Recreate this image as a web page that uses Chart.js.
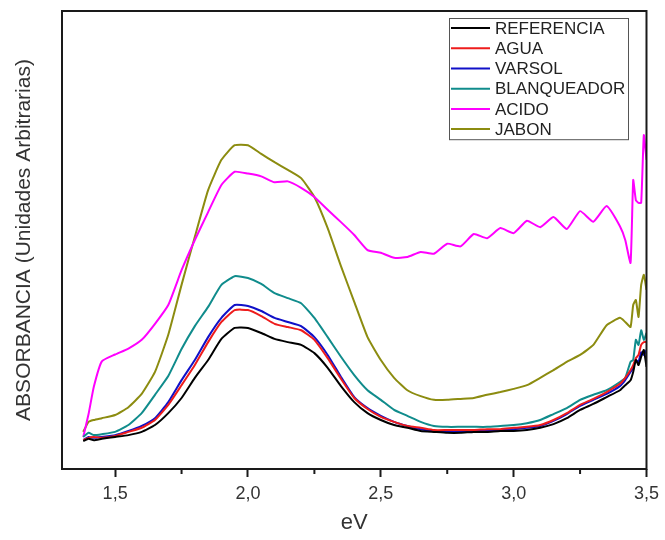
<!DOCTYPE html>
<html>
<head>
<meta charset="utf-8">
<script src="https://cdn.jsdelivr.net/npm/chart.js@4/dist/chart.umd.min.js"></script>
<style>
  html, body { margin: 0; padding: 0; background: #fff; }
  #wrap { width: 665px; height: 540px; }
</style>
</head>
<body>
<div id="wrap"><canvas id="absChart" width="665" height="540"></canvas></div>
<script>
// ----------------------------
// DATA (arbitrary units 0-100)
// ----------------------------
const energy = [
  1.38, 1.40, 1.42, 1.45,
  1.50, 1.55, 1.60, 1.65, 1.70, 1.75, 1.80, 1.85, 1.90, 1.95,
  2.00, 2.05, 2.10, 2.15, 2.20, 2.25, 2.30, 2.35, 2.40, 2.45,
  2.50, 2.55, 2.60, 2.65, 2.70, 2.75, 2.80, 2.85, 2.90, 2.95,
  3.00, 3.05, 3.10, 3.15, 3.20, 3.25, 3.30, 3.35, 3.40,
  3.42, 3.44, 3.45, 3.46, 3.47, 3.48, 3.49, 3.50
];

const referencia = [
  6.1, 6.6, 6.3, 6.6,
  7.0, 7.4, 8.1, 9.6, 12.2, 15.5, 19.9, 23.8, 28.4, 30.8,
  30.8, 29.7, 28.4, 27.7, 27.1, 25.3, 22.1, 18.1, 14.6, 12.2,
  10.7, 9.6, 9.0, 8.3, 8.1, 7.9, 7.9, 8.1, 8.1, 8.3,
  8.3, 8.5, 9.0, 9.8, 11.1, 12.9, 14.2, 15.7, 17.2,
  18.3, 19.4, 21.2, 23.8, 22.7, 24.5, 26.0, 22.3
];

const agua = [
  6.3, 6.8, 7.0, 6.8,
  7.2, 8.1, 9.0, 10.7, 14.0, 18.3, 22.7, 27.7, 32.1, 34.7,
  34.7, 33.4, 31.7, 31.0, 30.3, 28.2, 24.2, 19.7, 15.5, 13.1,
  11.4, 10.3, 9.4, 9.0, 8.5, 8.5, 8.5, 8.5, 8.7, 8.7,
  9.0, 9.2, 9.6, 10.7, 12.2, 14.0, 15.3, 16.8, 18.6,
  19.9, 21.6, 22.7, 24.2, 24.9, 27.1, 27.7, 27.7
];

const varsol = [
  6.3, 7.0, 6.8, 7.0,
  7.4, 8.3, 9.4, 11.1, 14.6, 19.4, 23.8, 28.8, 33.0, 35.8,
  35.6, 34.5, 33.0, 32.1, 31.2, 28.8, 24.9, 20.1, 15.7, 13.3,
  11.6, 10.3, 9.4, 8.7, 8.3, 8.3, 8.3, 8.3, 8.5, 8.5,
  8.7, 9.0, 9.4, 10.5, 12.0, 13.8, 15.1, 16.4, 18.1,
  19.4, 21.2, 22.1, 23.8, 23.4, 25.5, 24.9, 26.0
];

const blanqueador = [
  7.0, 7.9, 7.4, 7.6,
  8.1, 9.6, 12.2, 16.2, 20.3, 26.2, 31.2, 35.4, 40.2, 42.1,
  41.7, 40.4, 38.4, 37.3, 36.2, 33.0, 28.8, 24.5, 20.5, 17.2,
  15.1, 12.9, 11.6, 10.3, 9.4, 9.2, 9.2, 9.2, 9.2, 9.4,
  9.6, 10.0, 10.7, 12.0, 13.3, 15.1, 16.2, 17.2, 19.0,
  19.9, 23.4, 23.8, 28.2, 27.1, 30.3, 28.2, 29.7
];

const acido = [
  7.0, 12.0, 18.0, 23.5,
  25.0, 26.3, 28.2, 31.7, 35.8, 43.4, 50.0, 56.1, 62.0, 64.9,
  64.5, 63.9, 62.6, 62.8, 61.4, 59.4, 56.6, 53.9, 51.1, 47.8,
  47.2, 46.1, 46.3, 47.4, 47.0, 49.2, 48.6, 51.3, 50.4, 52.6,
  51.5, 54.2, 52.8, 55.0, 52.4, 56.3, 54.0, 57.4, 53.0,
  50.0, 45.0, 63.1, 58.7, 58.1, 58.1, 72.9, 67.5
];

const jabon = [
  8.1, 10.3, 10.7, 11.1,
  11.8, 13.5, 16.4, 21.2, 29.3, 40.2, 50.7, 60.9, 67.5, 70.7,
  70.7, 68.8, 67.0, 65.3, 63.5, 59.4, 52.6, 44.3, 36.5, 28.8,
  23.8, 19.9, 17.2, 15.9, 15.1, 15.1, 15.3, 15.5, 16.2, 16.8,
  17.5, 18.3, 19.9, 21.6, 23.4, 24.9, 27.1, 31.4, 33.0,
  32.1, 31.0, 35.8, 36.9, 33.2, 40.2, 42.4, 39.1
];

const seriesNames = ["REFERENCIA", "AGUA", "VARSOL", "BLANQUEADOR", "ACIDO", "JABON"];
const seriesColors = ["#000000", "#ee1c1c", "#1010c8", "#108c8c", "#ff00ff", "#8c8c10"];
const seriesValues = [referencia, agua, varsol, blanqueador, acido, jabon];

const xTicks = [1.5, 1.75, 2.0, 2.25, 2.5, 2.75, 3.0, 3.25, 3.5];

const FONT = "'Liberation Sans', Arial, sans-serif";

// ----------------------------
// PLUGINS: frame, minor ticks, boxed legend
// ----------------------------
const isMajor = v => Math.abs(v * 2 - Math.round(v * 2)) < 1e-6;

const framePlugin = {
  id: "frame",
  afterDatasetsDraw(chart) {
    const { ctx, chartArea: a, scales } = chart;
    ctx.save();
    ctx.strokeStyle = "#1a1a1a";
    ctx.lineWidth = 2;
    ctx.strokeRect(a.left, a.top, a.right - a.left, a.bottom - a.top);
    // minor ticks
    scales.x.ticks.forEach(t => {
      if (isMajor(t.value)) return;
      const px = scales.x.getPixelForValue(t.value);
      ctx.beginPath();
      ctx.moveTo(px, a.bottom);
      ctx.lineTo(px, a.bottom + 5);
      ctx.stroke();
    });
    ctx.restore();
  }
};

const boxLegendPlugin = {
  id: "boxLegend",
  afterDraw(chart) {
    const { ctx } = chart;
    const x0 = 449, y0 = 18, w = 179, rowH = 20.2;
    ctx.save();
    ctx.strokeStyle = "#555";
    ctx.lineWidth = 1;
    ctx.strokeRect(x0 + 0.5, y0 + 0.5, w, rowH * 6);
    ctx.font = "17px " + FONT;
    ctx.textBaseline = "middle";
    chart.data.datasets.forEach((ds, i) => {
      const cy = y0 + rowH * (i + 0.5);
      ctx.strokeStyle = ds.borderColor;
      ctx.lineWidth = 2;
      ctx.beginPath();
      ctx.moveTo(x0 + 2, cy);
      ctx.lineTo(x0 + 41, cy);
      ctx.stroke();
      ctx.fillStyle = "#222";
      ctx.fillText(ds.label, x0 + 46, cy + 1);
    });
    ctx.restore();
  }
};

// ----------------------------
// CHART
// ----------------------------
const datasets = seriesNames.map((name, i) => ({
  label: name,
  data: energy.map((e, j) => ({ x: e, y: seriesValues[i][j] })),
  borderColor: seriesColors[i],
  borderWidth: 2,
  pointRadius: 0,
  tension: 0.15,
  fill: false
}));

const ctx = document.getElementById("absChart").getContext("2d");

new Chart(ctx, {
  type: "line",
  data: { datasets },
  options: {
    responsive: false,
    animation: false,
    layout: { padding: { top: 11, right: 13, bottom: 0, left: 0 } },
    plugins: {
      legend: { display: false },
      tooltip: { enabled: false }
    },
    scales: {
      x: {
        type: "linear",
        min: 1.3,
        max: 3.5,
        afterBuildTicks: scale => {
          scale.ticks = xTicks.map(v => ({ value: v }));
        },
        afterFit: scale => { scale.height = 71; },
        grid: {
          display: true,
          drawOnChartArea: false,
          drawTicks: true,
          tickLength: 8,
          tickWidth: 2,
          color: c => (c.tick && isMajor(c.tick.value)) ? "#1a1a1a" : "rgba(0,0,0,0)"
        },
        border: { display: false },
        ticks: {
          autoSkip: false,
          maxRotation: 0,
          padding: 6,
          color: "#333",
          font: { family: FONT, size: 18 },
          callback: v => isMajor(v) ? v.toFixed(1).replace(".", ",") : ""
        },
        title: {
          display: true,
          text: "eV",
          color: "#333",
          font: { family: FONT, size: 22 },
          padding: { top: 0, bottom: 4 }
        }
      },
      y: {
        min: 0,
        max: 100,
        afterFit: scale => { scale.width = 62; },
        grid: { display: false },
        border: { display: false },
        ticks: { display: false },
        title: {
          display: true,
          text: "ABSORBANCIA (Unidades Arbitrarias)",
          color: "#333",
          font: { family: FONT, size: 21 },
          padding: { top: 12, bottom: 0 }
        }
      }
    }
  },
  plugins: [framePlugin, boxLegendPlugin]
});
</script>
</body>
</html>
